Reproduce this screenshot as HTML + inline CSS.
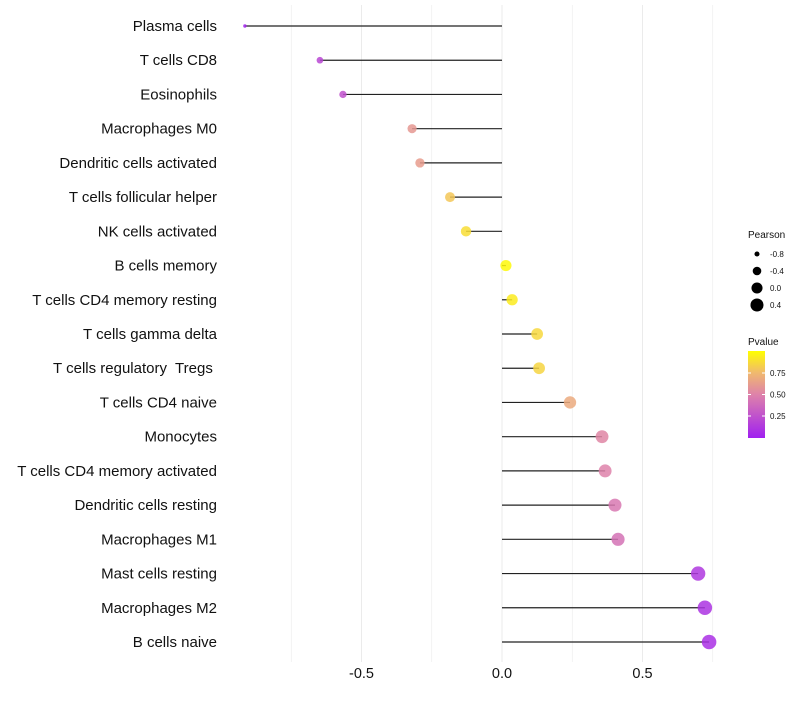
<!DOCTYPE html>
<html><head><meta charset="utf-8"><style>
body{margin:0;background:#fff}
svg text{font-family:"Liberation Sans",sans-serif;white-space:pre}
</style></head><body>
<svg id="c" width="800" height="700" xmlns="http://www.w3.org/2000/svg"></svg>
<script>
const categories=["Plasma cells","T cells CD8","Eosinophils","Macrophages M0","Dendritic cells activated","T cells follicular helper","NK cells activated","B cells memory","T cells CD4 memory resting","T cells gamma delta","T cells regulatory  Tregs ","T cells CD4 naive","Monocytes","T cells CD4 memory activated","Dendritic cells resting","Macrophages M1","Mast cells resting","Macrophages M2","B cells naive"];
const pearson=[-0.915,-0.648,-0.566,-0.320,-0.292,-0.185,-0.128,0.014,0.036,0.125,0.132,0.242,0.356,0.367,0.402,0.413,0.698,0.722,0.737];
const pvalue=[0.02,0.2,0.25,0.6,0.62,0.8,0.88,0.98,0.93,0.86,0.85,0.68,0.52,0.5,0.45,0.42,0.12,0.1,0.08];
const xTicks=[-0.5,0.0,0.5];
const xTickLabels=["-0.5","0.0","0.5"];
const xGrid=[-0.75,-0.5,-0.25,0,0.25,0.5,0.75];
const sizeBreaks=[-0.8,-0.4,0.0,0.4];
const sizeLabels=["-0.8","-0.4","0.0","0.4"];
const colorBreaks=[0.25,0.5,0.75];
const colorLabels=["0.25","0.50","0.75"];

const svg=document.getElementById('c');const NS="http://www.w3.org/2000/svg";
function mk(t,a,p){const e=document.createElementNS(NS,t);for(const k in a)e.setAttribute(k,a[k]);(p||svg).appendChild(e);return e;}
const xs=v=>502+v*281;
const ys=i=>26+i*(616/18);
const rs=v=>Math.sqrt(2.9+30.3*Math.max(0,v+0.915));
const stops=[[0,[160,32,240]],[0.5,[222,130,170]],[0.75,[240,185,110]],[1,[255,255,0]]];
function col(p){for(let i=1;i<stops.length;i++){if(p<=stops[i][0]){const a=stops[i-1],b=stops[i];const t=(p-a[0])/(b[0]-a[0]);return 'rgb('+a[1].map((c,j)=>Math.round(c+(b[1][j]-c)*t)).join(',')+')';}}return 'rgb(255,255,0)';}

xGrid.forEach(g=>{const l=mk('line',{x1:xs(g),x2:xs(g),y1:5,y2:662,stroke:'#ebebeb','stroke-width':xTicks.includes(g)?1:0.6});
});
xTicks.forEach((t,i)=>{const e=mk('text',{x:xs(t),y:678,'font-size':14.5,'text-anchor':'middle',fill:'#111'});e.textContent=xTickLabels[i];
});
categories.forEach((c,i)=>{const y=ys(i);
const t=mk('text',{x:217,y:y+5,'font-size':15,'text-anchor':'end',fill:'#111'});t.textContent=c;

const l=mk('line',{x1:xs(0),x2:xs(pearson[i]),y1:y,y2:y,stroke:'#222','stroke-width':1.2});

const d=mk('circle',{cx:xs(pearson[i]),cy:y,r:rs(pearson[i]),fill:col(pvalue[i]),'fill-opacity':0.85});
});
const lg=mk('g',{});
const pt=mk('text',{x:748,y:238,'font-size':10,fill:'#111'},lg);pt.textContent='Pearson';
sizeBreaks.forEach((s,i)=>{const y=254+i*17;mk('circle',{cx:757,cy:y,r:rs(s),fill:'#000'},lg);
const e=mk('text',{x:770,y:y+3,'font-size':8,fill:'#111'},lg);e.textContent=sizeLabels[i];});
const cg=mk('g',{});
const ct=mk('text',{x:748,y:345,'font-size':10,fill:'#111'},cg);ct.textContent='Pvalue';
const defs=mk('defs',{},cg);const lgd=mk('linearGradient',{id:'pg',x1:0,y1:1,x2:0,y2:0},defs);
stops.forEach(s=>mk('stop',{offset:s[0],'stop-color':'rgb('+s[1].join(',')+')'},lgd));
mk('rect',{x:748,y:351,width:17,height:87,fill:'url(#pg)'},cg);
colorBreaks.forEach((b,i)=>{const y=437.5-b*86;mk('line',{x1:748,x2:751,y1:y,y2:y,stroke:'#fff'},cg);mk('line',{x1:762,x2:765,y1:y,y2:y,stroke:'#fff'},cg);
const e=mk('text',{x:770,y:y+3,'font-size':8,fill:'#111'},cg);e.textContent=colorLabels[i];});
</script>
</body></html>
